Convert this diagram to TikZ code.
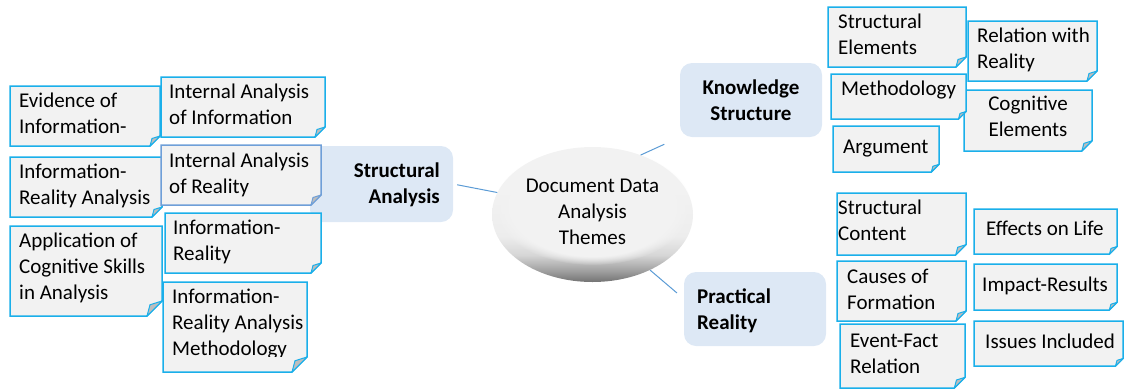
\documentclass[tikz,border=0pt]{standalone}
\usepackage{fontspec}
\setmainfont{Carlito}
\usetikzlibrary{calc,fadings,shapes.geometric}
\definecolor{boxbd}{HTML}{1AAFEA}
\definecolor{boxbdb}{HTML}{6F9FD8}
\definecolor{boxbg}{HTML}{F2F2F2}
\definecolor{foldc}{HTML}{BDBDBD}
\definecolor{catbg}{HTML}{DDE8F5}
\definecolor{linec}{HTML}{5B9BD5}
\newcommand\tl[1]{\begin{tabular}[t]{@{}l@{}}#1\end{tabular}}
\newcommand\tc[1]{\begin{tabular}[t]{@{}c@{}}#1\end{tabular}}
\newcommand\tr[1]{\begin{tabular}[t]{@{}r@{}}#1\end{tabular}}
\newcommand\nbox[5][boxbd]{%
  \pgfmathsetmacro\nbc{(#5-#3)/6}%
  \draw[line width=1.5pt, draw=#1, fill=boxbg, line join=miter]
    (#2,#3) -- (#4,#3) -- (#4,#5-\nbc) -- (#4-\nbc,#5) -- (#2,#5) -- cycle;
  \filldraw[line width=1pt, draw=#1, fill=foldc, line join=round]
    (#4-\nbc,#5) -- (#4-0.8*\nbc,#5-0.75*\nbc) -- (#4,#5-\nbc) -- cycle;
}
\pgfdeclareverticalshading{rimshade}{100bp}{color(0bp)=(black!55); color(25bp)=(black!55); color(29bp)=(black!38); color(35bp)=(black!16); color(42bp)=(black!7); color(60bp)=(black!5); color(75bp)=(black!5); color(100bp)=(black!5)}
\tikzset{
  txt/.style={inner sep=0pt, font=\fontsize{21}{26}\selectfont, text=black},
  txtb/.style={txt, font=\fontsize{21}{26}\selectfont\bfseries},
  cat/.style={fill=catbg, draw=none, rounded corners=12pt, inner sep=0pt},
  conn/.style={draw=linec, line width=1pt},
}
\begin{document}
\begin{tikzpicture}[x=1pt, y=-1pt]
\useasboundingbox (0,0) rectangle (1124,389);

% central theme
\node[ellipse, minimum width=201pt, minimum height=135pt, inner sep=0pt] (theme) at (592.5,214.5) {};
\shade[shading=rimshade] (592.5,214.5) ellipse [x radius=100.5, y radius=67.5];
\fill[black!5, path fading=circle with fuzzy edge 15 percent] (592.5,206) ellipse [x radius=99, y radius=59];
\node[txt, anchor=base] (themetext) at (592.5,192) {\tc{Document Data\\Analysis\\Themes}};

% category nodes
\node[cat, minimum width=143pt, minimum height=76pt] (sa) at (381.5,184) {};
\node[cat, minimum width=142pt, minimum height=74pt] (ks) at (751,100) {};
\node[cat, minimum width=142pt, minimum height=74pt] (pr) at (755,309) {};
\node[txtb, anchor=base east] (satext) at (440,177) {\tr{Structural\\Analysis}};
\node[txtb, anchor=base] (kstext) at (751,94) {\tc{Knowledge\\Structure}};
\node[txtb, anchor=base west] (prtext) at (697,303) {\tl{Practical\\Reality}};

% connectors
\draw[conn, shorten >=4pt] (theme.167) -- (sa.east);
\draw[conn, shorten >=17pt] (theme.51) -- (ks.south west);
\draw[conn, shorten >=9pt] (theme.-44) -- ($(pr.north west)+(0,27)$);

% left boxes
\nbox{10}{86}{160}{146}
\node[txt, anchor=base west] (ev) at (19,107) {\tl{Evidence of\\Information-}};
\nbox{161}{77}{325}{137}
\node[txt, anchor=base west] (iai) at (169,98) {\tl{Internal Analysis\\of Information}};
\nbox{10}{157}{162}{217}
\node[txt, anchor=base west] (ira) at (19,178) {\tl{Information-\\Reality Analysis}};
\nbox[boxbdb]{161}{145}{321}{205}
\node[txt, anchor=base west] (iar) at (169,167) {\tl{Internal Analysis\\of Reality}};
\nbox{165}{213}{321}{273}
\node[txt, anchor=base west] (ir) at (173,234) {\tl{Information-\\Reality}};
\nbox{10}{226}{162}{316}
\node[txt, anchor=base west] (acs) at (19,247) {\tl{Application of\\Cognitive Skills\\in Analysis}};
\nbox{163}{282}{307}{372}
\begin{scope}
\clip (163,282) rectangle (307,356);
\node[txt, anchor=base west] (iram) at (172,303) {\tl{Information-\\Reality Analysis\\Methodology}};
\end{scope}

% right boxes: knowledge structure
\nbox{828}{7}{966}{67}
\node[txt, anchor=base west] (se) at (838,28) {\tl{Structural\\Elements}};
\nbox{968}{21}{1097}{81}
\node[txt, anchor=base west] (rwr) at (977,42) {\tl{Relation with\\Reality}};
\nbox{964}{90}{1092}{151}
\node[txt, anchor=base] (cog) at (1028,110) {\tc{Cognitive\\Elements}};
\nbox{831}{74}{966}{119}
\node[txt, anchor=base west] (meth) at (841,95) {Methodology};
\nbox{833}{126}{939}{172}
\node[txt, anchor=base west] (arg) at (843,153) {Argument};

% right boxes: practical reality
\nbox{837}{193}{966}{255}
\node[txt, anchor=base west] (sc) at (838,214) {\tl{Structural\\Content}};
\nbox{974}{209}{1117}{254}
\node[txt, anchor=base west] (eol) at (986,235) {Effects on Life};
\nbox{837}{261}{966}{321}
\node[txt, anchor=base west] (cof) at (847,283) {\tl{Causes of\\Formation}};
\nbox{974}{264}{1117}{310}
\node[txt, anchor=base west] (imp) at (982,291) {Impact-Results};
\nbox{840}{324}{965}{388}
\node[txt, anchor=base west] (efr) at (850,347) {\tl{Event-Fact\\Relation}};
\nbox{974}{321}{1123}{366}
\node[txt, anchor=base west] (iss) at (985,348) {Issues Included};
\end{tikzpicture}
\end{document}
